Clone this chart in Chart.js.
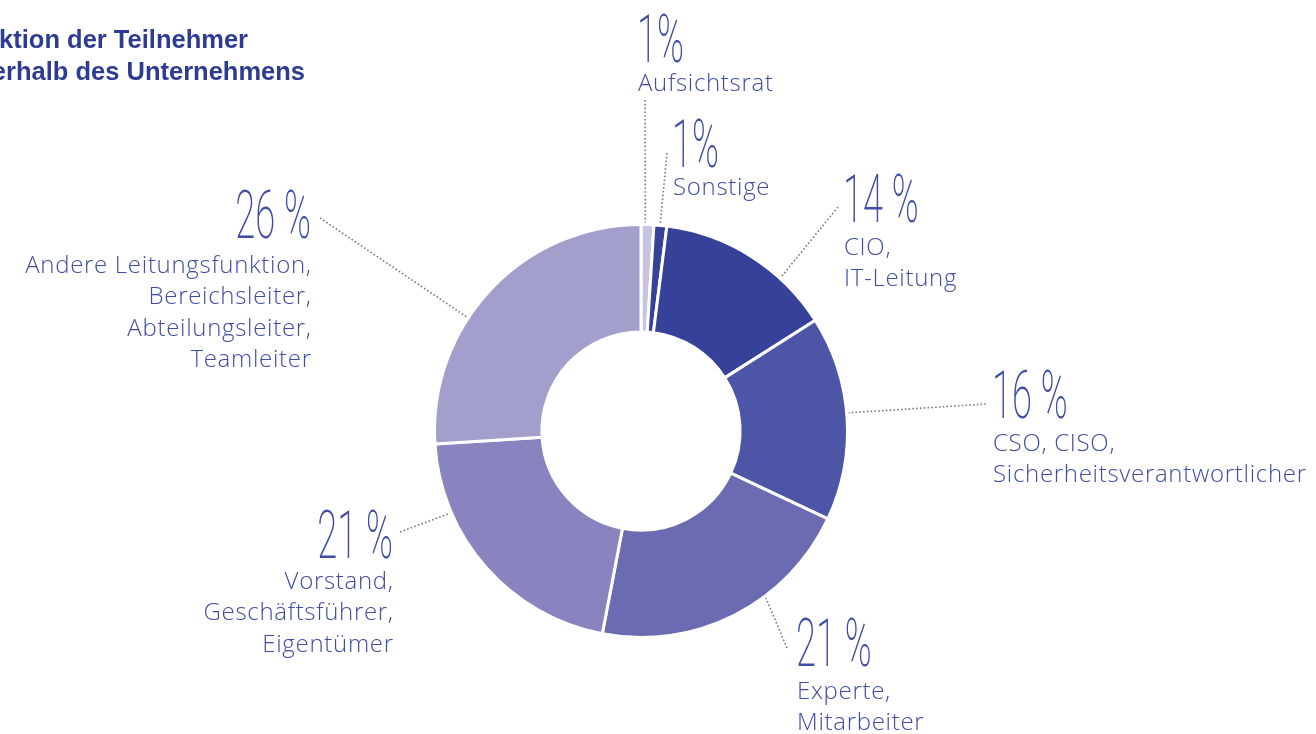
<!DOCTYPE html>
<html lang="de">
<head>
<meta charset="utf-8">
<title>Funktion der Teilnehmer innerhalb des Unternehmens</title>
<script src="https://cdn.jsdelivr.net/npm/chart.js@4/dist/chart.umd.min.js"></script>
<style>
  html, body { margin: 0; padding: 0; background: #fff; overflow: hidden; }
  #wrap { position: relative; width: 1316px; height: 734px; }
</style>
</head>
<body>
<div id="wrap"><canvas id="donut" width="1316" height="734"></canvas></div>
<script>
/* ---------- data ---------- */
const CATEGORIES = ["Aufsichtsrat", "Sonstige", "CIO, IT-Leitung", "CSO, CISO, Sicherheitsverantwortlicher",
                    "Experte, Mitarbeiter", "Vorstand, Geschäftsführer, Eigentümer",
                    "Andere Leitungsfunktion, Bereichsleiter, Abteilungsleiter, Teamleiter"];
const SHARES = [1, 1, 14, 16, 21, 21, 26];
const LABEL_LINES = [
  ["Aufsichtsrat"],
  ["Sonstige"],
  ["CIO,", "IT-Leitung"],
  ["CSO, CISO,", "Sicherheitsverantwortlicher"],
  ["Experte,", "Mitarbeiter"],
  ["Vorstand,", "Geschäftsführer,", "Eigentümer"],
  ["Andere Leitungsfunktion,", "Bereichsleiter,", "Abteilungsleiter,", "Teamleiter"]
];
const PCT_TEXT = ["1%", "1%", "14 %", "16 %", "21 %", "21 %", "26 %"];

/* ---------- styles / placement ---------- */
const COLORS = ["#c6c4e1", "#36429a", "#36429a", "#4d56a6", "#6b6bb1", "#8784bf", "#a29fcc"];
const TEXT_BLUE = "#3e4ca3";
const TITLE_BLUE = "#2e3b93";

// label block: anchor x, percent baseline, first text baseline, align, leader start [x,y], leader angle on ring (deg from top)
const LABEL_POS = [
  { x: 637, pctY: 62,  txtY: 91,  align: "left",  from: [645, 100], ang: 1.2 },
  { x: 672, pctY: 167, txtY: 195, align: "left",  from: [667, 153], ang: 5.3 },
  { x: 843, pctY: 222, txtY: 255, align: "left",  from: [838, 207], ang: 42.3 },
  { x: 992, pctY: 418, txtY: 451, align: "left",  from: [986, 404], ang: 85 },
  { x: 796, pctY: 666, txtY: 699, align: "left",  from: [787, 648], ang: 143.2 },
  { x: 393, pctY: 558, txtY: 589, align: "right", from: [400, 532], ang: 246.7 },
  { x: 311, pctY: 238, txtY: 273, align: "right", from: [320, 218], ang: 303.2 }
];

const labelPlugin = {
  id: "outerLabels",
  afterDraw(chart) {
    const ctx = chart.ctx;
    const meta = chart.getDatasetMeta(0);
    const arc0 = meta.data[0];
    const cx = arc0.x, cy = arc0.y, r = arc0.outerRadius;

    ctx.save();
    // title (runs off the left edge)
    ctx.fillStyle = TITLE_BLUE;
    ctx.font = "bold 25.5px 'Liberation Sans', Arial, sans-serif";
    ctx.textAlign = "right";
    ctx.textBaseline = "alphabetic";
    ctx.fillText("Funktion der Teilnehmer", 248, 48);
    ctx.fillText("innerhalb des Unternehmens", 305, 80);

    LABEL_POS.forEach((p, i) => {
      // dotted leader
      const a = p.ang * Math.PI / 180;
      const rr = r + 2;
      const ex = cx + Math.sin(a) * rr, ey = cy - Math.cos(a) * rr;
      ctx.save();
      ctx.strokeStyle = "#7a7a7a";
      ctx.lineWidth = 1.6;
      ctx.setLineDash([1.6, 2.2]);
      ctx.beginPath();
      ctx.moveTo(p.from[0], p.from[1]);
      ctx.lineTo(ex, ey);
      ctx.stroke();
      ctx.restore();

      // percentage, condensed light numerals
      ctx.save();
      ctx.fillStyle = TEXT_BLUE;
      ctx.font = "200 66px Roboto, sans-serif";
      ctx.textAlign = p.align;
      ctx.translate(p.x, p.pctY);
      ctx.scale(0.55, 1);
      ctx.fillText(PCT_TEXT[i], 0, 0);
      ctx.restore();

      // category text
      ctx.save();
      ctx.fillStyle = TEXT_BLUE;
      ctx.font = "300 24px 'Open Sans', sans-serif";
      ctx.letterSpacing = "0.7px";
      ctx.textAlign = p.align;
      LABEL_LINES[i].forEach((line, k) => {
        ctx.fillText(line, p.x + (p.align === "left" ? 1 : 0.7), p.txtY + k * 31.3);
      });
      ctx.restore();
    });
    ctx.restore();
  }
};

new Chart(document.getElementById("donut"), {
  type: "doughnut",
  data: {
    labels: CATEGORIES,
    datasets: [{
      data: SHARES,
      backgroundColor: COLORS,
      borderColor: "#ffffff",
      borderWidth: 3,
      hoverOffset: 0
    }]
  },
  options: {
    responsive: false,
    animation: false,
    cutout: "48%",
    layout: { padding: { left: 433, right: 467, top: 223, bottom: 95 } },
    plugins: {
      legend: { display: false },
      tooltip: { enabled: false }
    },
    events: []
  },
  plugins: [labelPlugin]
});
</script>
</body>
</html>
